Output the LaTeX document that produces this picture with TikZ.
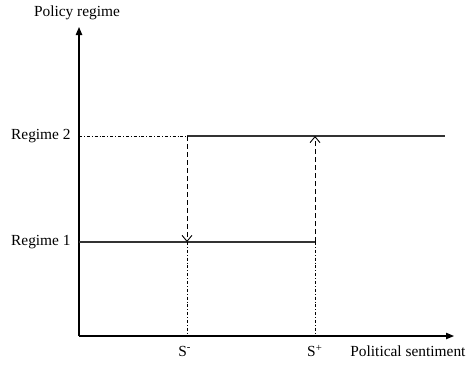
\documentclass[tikz,border=0pt]{standalone}
\usepackage{fontspec}
\setmainfont{Liberation Serif}
\usetikzlibrary{arrows.meta}
\begin{document}
\begin{tikzpicture}[x=0.5pt,y=-0.5pt,
  lbl/.style={font=\fontsize{7.7}{9}\selectfont, inner sep=0pt},
  axis/.style={line width=0.55pt, -{Triangle[length=4pt,width=3.2pt]}},
  regime/.style={line width=0.55pt, draw=black!80},
  guide/.style={line width=0.4pt, dash pattern=on 1.5pt off 1pt on 0.4pt off 1pt},
  jump/.style={line width=0.45pt, dash pattern=on 2.5pt off 1.5pt, -{Straight Barb[length=3pt,width=5pt]}}]
\useasboundingbox (0,0) rectangle (469,364);
\coordinate (O) at (79,336);
\coordinate (ytop) at (79,27);
\coordinate (xend) at (454,336);
\coordinate (r2a) at (79,136);
\coordinate (sm2) at (187,136);
\coordinate (r2end) at (445,136);
\coordinate (r1a) at (79,242);
\coordinate (sm1) at (187,242);
\coordinate (sp1) at (315,242);
\coordinate (sp2) at (315,136);
\coordinate (smx) at (187,336);
\coordinate (spx) at (315,336);
\draw[axis] (O) -- (ytop);
\draw[axis] (O) -- (xend);
\node[lbl] (ylab) at (77,13) {Policy regime};
\node[lbl, anchor=west] (xlab) at (350,351) {Political sentiment};
\node[lbl, anchor=east] (lr2) at (71,136) {Regime 2};
\node[lbl, anchor=east] (lr1) at (71,242) {Regime 1};
\node[lbl] (sminus) at (185,351) {S\textsuperscript{-}};
\node[lbl] (splus) at (315,351) {S\textsuperscript{+}};
\draw[regime] (sm2) -- (r2end);
\draw[regime] (r1a) -- (sp1);
\draw[guide] (r2a) -- (sm2);
\draw[guide] (sm1) -- (smx);
\draw[guide] (sp1) -- (spx);
\draw[jump] (sm2) -- (sm1);
\draw[jump] (sp1) -- (sp2);
\end{tikzpicture}
\end{document}
